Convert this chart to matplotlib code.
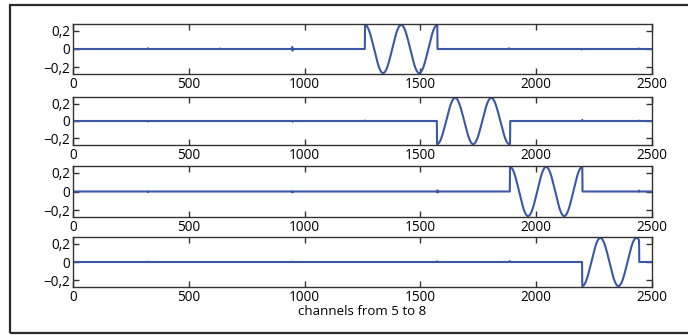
import numpy as np
import matplotlib
matplotlib.use("Agg")
import matplotlib.pyplot as plt
from matplotlib.patches import Rectangle

plt.rcParams['font.family'] = ['Open Sans', 'DejaVu Sans']

N_CHANNELS = 2500
LINE_COLOR = '#3b58a6'

# burst on each channel: first / last sample, sign of the first lobe
burst_start = [1261, 1572, 1887, 2199]
burst_stop = [1573, 1887, 2199, 2444]
burst_sign = [1, -1, 1, -1]
burst_amp = 0.265
burst_period = 156.0

# small crosstalk blips: (sample, value) per channel
blips = [
    [(324, 0.008), (635, 0.005), (946, 0.018), (947, 0.022), (948, -0.018), (1883, 0.008), (2196, -0.006), (2444, 0.005)],
    [(324, -0.006), (948, -0.008), (1260, 0.005), (2199, 0.012), (2444, 0.004)],
    [(324, -0.005), (948, -0.01), (1573, 0.012), (1574, -0.01), (2444, 0.01)],
    [(324, 0.004), (948, 0.004), (1573, 0.008), (1886, 0.01)],
]

xticks = [0, 500, 1000, 1500, 2000, 2500]
yticks = [-0.2, 0, 0.2]
ytick_labels = ['\u22120,2', '0', '0,2']
xlabel = 'channels from 5 to 8'

# panel boxes in pixels: (top, bottom)
panel_px = [(24, 74), (97, 145), (166, 217), (237, 287)]
W, H = 688, 335
left_px, right_px = 73, 652

fig = plt.figure(figsize=(W / 100, H / 100), dpi=100)

# outer frame, open past the right edge of the canvas
fig.add_artist(Rectangle((10 / W, 1 - 333 / H), 1.1, (333 - 5) / H,
                         transform=fig.transFigure, fill=False,
                         edgecolor='#2b2b2b', linewidth=1.6, clip_on=False))

x = np.arange(N_CHANNELS + 1)
axes = []
for i, (top, bot) in enumerate(panel_px):
    ax = fig.add_axes([left_px / W, 1 - bot / H, (right_px - left_px) / W, (bot - top) / H])
    y = np.zeros_like(x, dtype=float)
    for pos, val in blips[i]:
        y[pos] = val
    s0, s1 = burst_start[i], burst_stop[i]
    seg = x[s0:s1 + 1]
    y[s0:s1 + 1] = burst_sign[i] * burst_amp * np.cos(2 * np.pi * (seg - s0) / burst_period)
    ax.plot(x, y, color=LINE_COLOR, linewidth=1.5)

    ax.set_xlim(0, N_CHANNELS)
    ax.set_ylim(-0.275, 0.275)
    ax.set_xticks(xticks)
    ax.set_yticks(yticks)
    ax.set_yticklabels(ytick_labels)
    ax.tick_params(direction='in', top=True, right=True, length=4, width=1,
                   color='#333333', labelsize=9.8, pad=2)
    for sp in ax.spines.values():
        sp.set_color('#333333')
        sp.set_linewidth(1.0)
    axes.append(ax)

axes[-1].set_xlabel(xlabel, fontsize=9.5, labelpad=0)

fig.savefig('out.png', dpi=100)
